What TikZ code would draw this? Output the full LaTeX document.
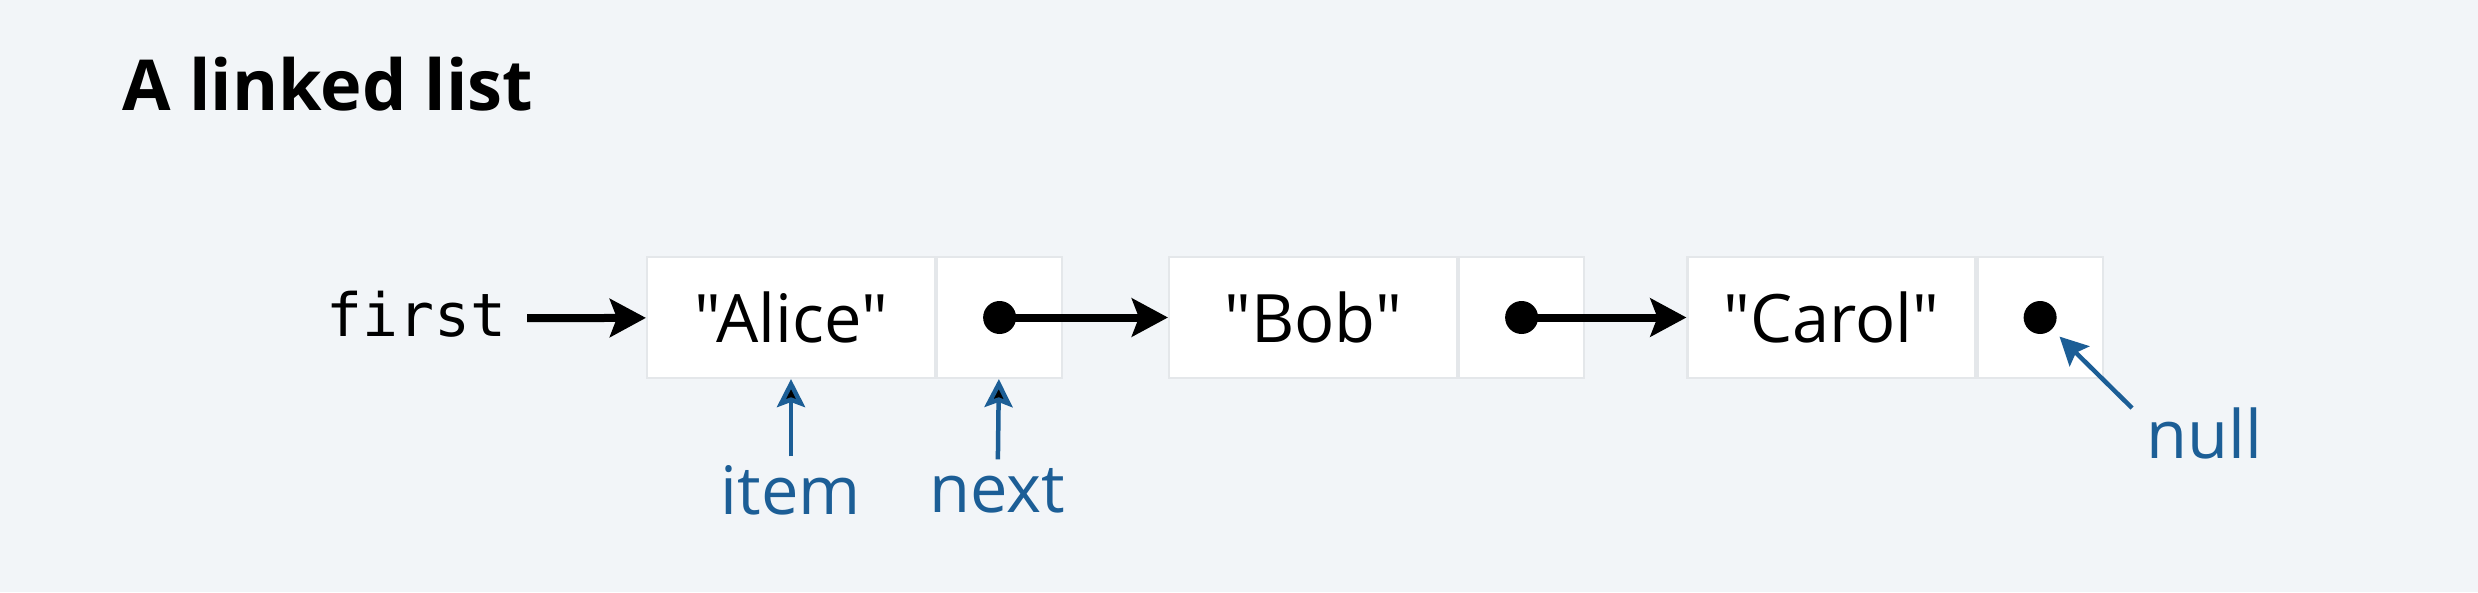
\documentclass[tikz,border=0pt]{standalone}
\usepackage{fontspec}
\setmainfont{Open Sans}
\newfontfamily\cellfont{Open Sans}
\setmonofont{DejaVu Sans Mono}
\usepackage{xcolor}
\usepackage{tikz}
\usetikzlibrary{arrows.meta, positioning}
\definecolor{bgcol}{RGB}{242,245,248}
\definecolor{cellline}{RGB}{228,231,234}
\definecolor{refblue}{RGB}{28,94,150}

\begin{document}
\begin{tikzpicture}[auto,node distance=0pt,
                    cell/.style={rectangle,fill=white,draw=cellline,line width=0.6pt,minimum height=1.21cm,inner sep=0pt,font=\cellfont\fontsize{19}{23}\selectfont},
                    item cell/.style={cell,minimum width=2.88cm},
                    next cell/.style={cell,minimum width=1.25cm},
                    ref dot/.style={circle,fill=black,inner sep=0pt,minimum size=0.33cm},
                    blue label/.style={text=refblue,inner sep=0.08cm,font=\fontsize{19}{23}\selectfont},
                    ptr/.style={-{Stealth[length=0.36cm,width=0.38cm,inset=0.07cm]},line width=0.08cm},
                    blue ptr/.style={-{Stealth[length=0.28cm,width=0.28cm,inset=0.05cm]},line width=0.045cm,draw=refblue}]

 \useasboundingbox (0,0) rectangle (24.78,-5.92);
 \fill[bgcol] (0,0) rectangle (24.78,-5.92);

 \node[anchor=base west,inner sep=0pt,font=\bfseries\fontsize{20}{24}\selectfont] (title) at (1.22,-1.10) {A linked list};

 \node[anchor=base east,inner sep=0.2cm,text height=0.45cm,text depth=0.1cm,font=\ttfamily\fontsize{17}{20}\selectfont] (0) at (5.27,-3.36) {first};

 \node[item cell] (1) at (7.91,-3.175) {"Alice"};
 \node[next cell,right=of 1] (n1) {};
 \node[ref dot] (d1) at (n1) {};

 \node[item cell] (2) at (13.13,-3.175) {"Bob"};
 \node[next cell,right=of 2] (n2) {};
 \node[ref dot] (d2) at (n2) {};

 \node[item cell] (3) at (18.315,-3.175) {"Carol"};
 \node[next cell,right=of 3] (n3) {};
 \node[ref dot] (d3) at (n3) {};

 \node[blue label,anchor=base] (item) at (7.91,-5.14) {item};
 \node[blue label,anchor=base] (next) at (9.975,-5.12) {next};
 \node[blue label,anchor=base] (null) at (22.04,-4.58) {null};
 \coordinate (nulltail) at (21.32,-4.08);

  \path[ptr]
    (0) edge (1)
    (d1.center) edge (2)
    (d2.center) edge (3);

  \path[blue ptr]
    (item) edge (1)
    (next) edge (n1);
  \draw[blue ptr,shorten >=0.1cm] (nulltail) -- (d3);

\end{tikzpicture}
\end{document}
